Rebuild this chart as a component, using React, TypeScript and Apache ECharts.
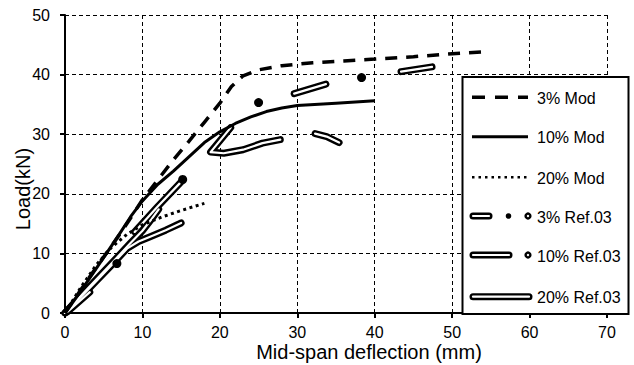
import React, { useEffect, useRef } from "react";
import * as echarts from "echarts";

type Pt = [number, number] | "-";

const FONT = "'Liberation Sans', Arial, sans-serif";

// x: mid-span deflection (mm), y: load (kN)
const mod3: Pt[] = [[0,0],[2,3.8],[4,7.6],[6,11.2],[8,15],[10,19],[12.5,23.2],[14,25.7],[16,28.8],[18,32],[20,35.2],[21.5,38],[23,39.8],[25,40.8],[28,41.5],[32,42],[36,42.3],[40,42.6],[45,43],[50,43.5],[53.8,43.8]];
const mod10: Pt[] = [[0,0],[2,3.6],[4,7.4],[5.4,10.1],[7,13.2],[8.5,16.2],[10,18.8],[12,21.6],[14,23.8],[16,26.2],[18,28.6],[20,30.4],[22,31.8],[24,32.9],[26,33.8],[28,34.4],[30,34.8],[35,35.2],[40,35.6]];
const mod20: Pt[] = [[0,0],[2,4.2],[4,8],[6,11],[8,13.2],[10,14.8],[12.5,16.1],[15,17.2],[18,18.4]];
const ref3Lines: Pt[] = [[0.3,0.2],[3.2,3.5],"-",[9,13.6],[12,17.9],[15,22],"-",[29.6,36.8],[33.7,38.4],"-",[43.4,40.5],[47.4,41.3]];
const ref3Dots: Pt[] = [[6.7,8.3],[15.2,22.4],[25,35.3],[38.3,39.5]];
const ref10: Pt[] = [[0,0],[3,4.2],[6,8.3],[8.5,11.8],[10,13.8],[11.2,15.8],[12.1,17.4],"-",[21.4,31.1],[18.8,27],[20.5,26.8],[23,27.4],[25.5,28.5],[27.8,29.1],"-",[32.3,30.1],[33.8,29.6],[35.4,28.6]];
const ref20: Pt[] = [[0,0],[2,2.6],[4,5.3],[6,8],[8,10.8],[9.5,12],[11,12.8],[13,13.9],[15,15.1]];

const xTicks = [0, 10, 20, 30, 40, 50, 60, 70];
const yTicks = [0, 10, 20, 30, 40, 50];
const legendNames = ["3% Mod", "10% Mod", "20% Mod", "3% Ref.03", "10% Ref.03", "20% Ref.03"];

function outlined(name: string, data: Pt[]) {
  return [
    {
      type: "line", name, data, symbol: "none", connectNulls: false, z: 3, silent: true,
      lineStyle: { color: "#000", width: 7, cap: "round", join: "round" },
    },
    {
      type: "line", name: name + " ", data, symbol: "none", connectNulls: false, z: 4, silent: true,
      lineStyle: { color: "#fff", width: 2.2, cap: "round", join: "round" },
    },
  ];
}

function buildLegend() {
  const left = 462.5, top = 77, w = 166, h = 237;
  const rows = [97.3, 136.7, 177.3, 216, 255, 296.7];
  const x1 = 472, x2 = 528;
  const els: any[] = [
    { type: "rect", z: 100, shape: { x: left, y: top, width: w, height: h }, style: { fill: "#fff", stroke: "#000", lineWidth: 2 } },
  ];
  const outl = (a: number, b: number, y: number) => {
    els.push({ type: "line", z: 101, shape: { x1: a, y1: y, x2: b, y2: y }, style: { stroke: "#000", lineWidth: 7, lineCap: "round" } });
    els.push({ type: "line", z: 102, shape: { x1: a, y1: y, x2: b, y2: y }, style: { stroke: "#fff", lineWidth: 2.2, lineCap: "round" } });
  };
  const ring = (cx: number, y: number) => {
    els.push({ type: "circle", z: 101, shape: { cx, cy: y, r: 3.6 }, style: { fill: "#000" } });
    els.push({ type: "circle", z: 102, shape: { cx, cy: y, r: 1.2 }, style: { fill: "#fff" } });
  };
  els.push({ type: "line", z: 101, shape: { x1: x1, y1: rows[0], x2: x2, y2: rows[0] }, style: { stroke: "#000", lineWidth: 3.5, lineDash: [13, 10] } });
  els.push({ type: "line", z: 101, shape: { x1: x1, y1: rows[1], x2: x2, y2: rows[1] }, style: { stroke: "#000", lineWidth: 3 } });
  els.push({ type: "line", z: 101, shape: { x1: x1, y1: rows[2], x2: x2, y2: rows[2] }, style: { stroke: "#000", lineWidth: 2.5, lineDash: [2.5, 4] } });
  outl(x1 + 1, 489, rows[3]);
  els.push({ type: "circle", z: 101, shape: { cx: 508.5, cy: rows[3], r: 2.8 }, style: { fill: "#000" } });
  ring(528, rows[3]);
  outl(x1 + 1, 509, rows[4]);
  ring(528, rows[4]);
  outl(x1 + 1, 529, rows[5]);
  legendNames.forEach((n, i) => {
    els.push({
      type: "text", z: 103, x: 537, y: rows[i] + 1,
      style: { text: n, fill: "#000", font: `16px ${FONT}`, textVerticalAlign: "middle", textAlign: "left" },
    });
  });
  return els;
}

export default function App() {
  const ref = useRef<HTMLDivElement>(null);
  useEffect(() => {
    if (!ref.current) return;
    const chart = echarts.init(ref.current, undefined, { renderer: "svg" });
    chart.setOption({
      animation: false,
      backgroundColor: "#fff",
      textStyle: { fontFamily: FONT },
      grid: { left: 65, right: 27, top: 15, bottom: 52, containLabel: false, outerBoundsMode: "none" },
      xAxis: {
        type: "value", min: xTicks[0], max: xTicks[xTicks.length - 1], interval: 10,
        name: "Mid-span deflection (mm)", nameLocation: "middle", nameGap: 29, nameMoveOverlap: false,
        nameTextStyle: { fontSize: 20, color: "#000", fontFamily: FONT, padding: [0, 0, 0, 66] },
        axisLine: { onZero: false, lineStyle: { color: "#000", width: 2 } },
        axisTick: { show: true, length: 5, lineStyle: { color: "#000", width: 2 } },
        axisLabel: { fontSize: 16, color: "#000", margin: 11, fontFamily: FONT },
        splitLine: { show: true, showMinLine: false, lineStyle: { color: "#000", width: 1, type: [4, 3] } },
      },
      yAxis: {
        type: "value", min: yTicks[0], max: yTicks[yTicks.length - 1], interval: 10,
        name: "Load(kN)", nameLocation: "middle", nameGap: 32, nameRotate: 90, nameMoveOverlap: false,
        nameTextStyle: { fontSize: 20, color: "#000", fontFamily: FONT, padding: [0, 50, 0, 0] },
        axisLine: { show: true, onZero: false, lineStyle: { color: "#000", width: 2 } },
        axisTick: { show: true, length: 5, lineStyle: { color: "#000", width: 2 } },
        axisLabel: { fontSize: 16, color: "#000", margin: 15, fontFamily: FONT },
        splitLine: { show: true, showMinLine: false, lineStyle: { color: "#000", width: 1, type: [4, 3] } },
      },
      series: [
        ...outlined("20% Ref.03", ref20),
        ...outlined("10% Ref.03", ref10),
        ...outlined("3% Ref.03", ref3Lines),
        { type: "scatter", name: "3% Ref.03 points", data: ref3Dots, symbol: "circle", symbolSize: 9, itemStyle: { color: "#000", opacity: 1 }, z: 5, silent: true },
        { type: "line", name: "3% Mod", data: mod3, symbol: "none", z: 6, silent: true, lineStyle: { color: "#000", width: 3.5, type: [12, 9] } },
        { type: "line", name: "10% Mod", data: mod10, symbol: "none", z: 6, silent: true, lineStyle: { color: "#000", width: 3 } },
        { type: "line", name: "20% Mod", data: mod20, symbol: "none", z: 6, silent: true, lineStyle: { color: "#000", width: 3, type: [3, 3.5] } },
      ],
      graphic: buildLegend(),
    });
    return () => chart.dispose();
  }, []);
  return <div ref={ref} style={{ width: 634, height: 365, position: "absolute", left: 0, top: 0 }} />;
}
